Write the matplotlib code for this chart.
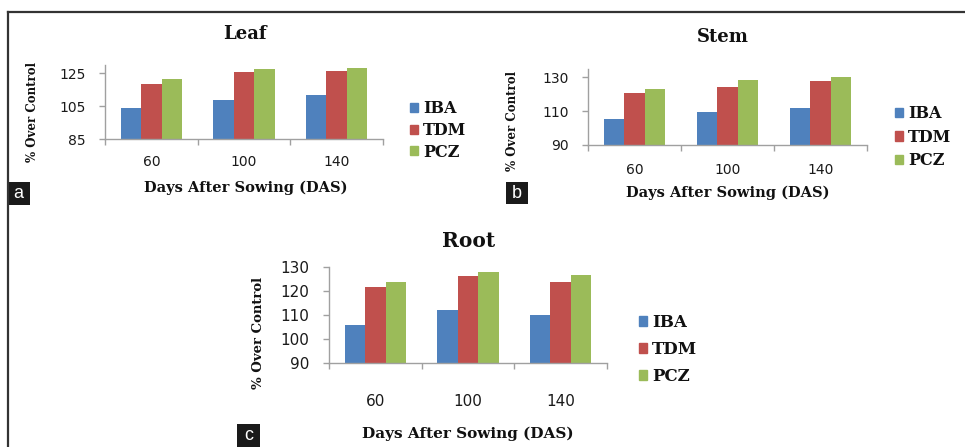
import matplotlib
matplotlib.use("Agg")
import matplotlib.pyplot as plt
import matplotlib.transforms as mtransforms
from matplotlib.patches import Rectangle
from matplotlib.lines import Line2D
import numpy as np

# ---------------- data ----------------
categories = ["60", "100", "140"]
series = ["IBA", "TDM", "PCZ"]

leaf_iba = [104.2, 108.6, 111.6]
leaf_tdm = [118.2, 125.5, 126.6]
leaf_pcz = [121.7, 127.8, 128.2]

stem_iba = [105.4, 109.5, 112.0]
stem_tdm = [120.6, 124.6, 128.1]
stem_pcz = [123.0, 128.7, 130.4]

root_iba = [105.8, 112.0, 110.2]
root_tdm = [121.7, 126.1, 123.6]
root_pcz = [123.6, 127.9, 126.5]

leaf_ticks = [85, 105, 125]
stem_ticks = [90, 110, 130]
root_ticks = [90, 100, 110, 120, 130]

colors = ["#4F81BD", "#C0504D", "#9BBB59"]

# ---------------- layout helpers ----------------
W, H = 965, 447
fig = plt.figure(figsize=(W / 100, H / 100), dpi=100)
fig.patch.set_facecolor("white")

SERIF = "DejaVu Serif"
SANS = "DejaVu Sans"


def fx(x):
    return x / W


def fy(y):
    return 1 - y / H


def add_ax(left, top, right, bottom):
    return fig.add_axes([fx(left), fy(bottom), (right - left) / W, (bottom - top) / H])


def panel(box, vals, ylim, yticks, tick_fs, title, title_xy, title_fs,
          xlab_xy, xlab_fs, ylab_xy, ylab_fs, xtick_y, leg_x, leg_y0, leg_dy, leg_fs):
    left, top, right, bottom = box
    ax = add_ax(left, top, right, bottom)
    x = np.arange(len(categories))
    w = 0.22
    for i, (v, c) in enumerate(zip(vals, colors)):
        ax.bar(x + (i - 1) * w, np.array(v) - ylim[0], bottom=ylim[0], width=w,
               color=c, edgecolor="none", label=series[i])
    ax.set_xlim(-0.5, len(categories) - 0.5)
    ax.set_ylim(*ylim)
    ax.set_yticks(yticks)
    ax.set_yticklabels([str(t) for t in yticks], fontsize=tick_fs, family=SANS,
                       color="#1a1a1a")
    ax.set_xticks(x)
    ax.set_xticklabels([])
    ax.set_xticks(np.arange(-0.5, len(categories) + 0.5, 1.0), minor=True)
    ax.tick_params(axis="x", which="major", length=0)
    ax.tick_params(axis="x", which="minor", length=4, color="#A0A0A0", width=1)
    ax.tick_params(axis="y", length=4, color="#A0A0A0", width=1, pad=10)
    for s in ["top", "right"]:
        ax.spines[s].set_visible(False)
    for s in ["left", "bottom"]:
        ax.spines[s].set_color("#A0A0A0")
        ax.spines[s].set_linewidth(1.0)
    ax.set_facecolor("white")
    trans = mtransforms.blended_transform_factory(ax.transData, fig.transFigure)
    for xi, cat in zip(x, categories):
        ax.text(xi, fy(xtick_y), cat, transform=trans,
                ha="center", va="center", fontsize=tick_fs, family=SANS, color="#1a1a1a")
    fig.text(fx(title_xy[0]), fy(title_xy[1]), title, ha="center", va="center",
             fontsize=title_fs, family=SERIF, fontweight="bold", color="#111111")
    fig.text(fx(xlab_xy[0]), fy(xlab_xy[1]), "Days After Sowing (DAS)", ha="center",
             va="center", fontsize=xlab_fs, family=SERIF, fontweight="bold", color="#111111")
    fig.text(fx(ylab_xy[0]), fy(ylab_xy[1]), "% Over Control", ha="center", va="center",
             rotation=90, fontsize=ylab_fs, family=SERIF, fontweight="bold", color="#111111")
    handles = [Rectangle((0, 0), 1, 1, color=c) for c in colors]
    leg = fig.legend(handles, series, loc="upper left",
                     bbox_to_anchor=(fx(leg_x), fy(leg_y0)),
                     frameon=False, handlelength=0.5, handleheight=0.5,
                     handletextpad=0.3, borderpad=0, borderaxespad=0,
                     labelspacing=leg_dy,
                     prop={"family": SERIF, "weight": "bold", "size": leg_fs})
    for t in leg.get_texts():
        t.set_color("#111111")
    return ax


panel((105, 65, 383, 139.3), [leaf_iba, leaf_tdm, leaf_pcz], (85, 130), leaf_ticks, 10,
      "Leaf", (245, 34), 13, (246, 188), 10.5, (33, 112), 8.5,
      162, 410, 100, 0.3, 11.5)

panel((588, 69, 867, 145), [stem_iba, stem_tdm, stem_pcz], (90, 135), stem_ticks, 10,
      "Stem", (723, 37), 13, (728, 193), 10.5, (513, 121), 8.5,
      170, 895, 105, 0.42, 11.5)

panel((329, 266.7, 607, 363.3), [root_iba, root_tdm, root_pcz], (90, 130), root_ticks, 11,
      "Root", (469, 241), 14.5, (468, 434), 11, (259, 333), 9.5,
      402, 639, 314, 0.6, 12)

# frame lines (top and left)
fig.add_artist(Line2D([fx(8), fx(965)], [fy(12), fy(12)], color="#333333", lw=1.6))
fig.add_artist(Line2D([fx(8), fx(8)], [fy(12), fy(447)], color="#333333", lw=1.6))

# panel letter boxes
for letter, (x0, y0, x1, y1) in [("a", (7, 182, 30, 205)),
                                 ("b", (506, 182, 528, 204)),
                                 ("c", (237, 424, 260, 447))]:
    fig.add_artist(Rectangle((fx(x0), fy(y1)), (x1 - x0) / W, (y1 - y0) / H,
                             transform=fig.transFigure, facecolor="#1a1a1a",
                             edgecolor="none"))
    fig.text(fx((x0 + x1) / 2), fy((y0 + y1) / 2), letter, ha="center", va="center",
             fontsize=13, family="Liberation Sans", color="white")

fig.savefig("out.png", dpi=100, facecolor="white")
